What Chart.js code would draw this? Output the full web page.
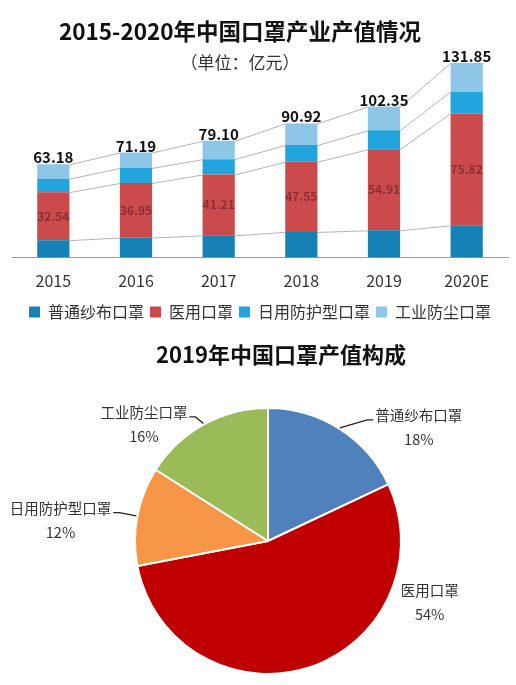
<!DOCTYPE html>
<html>
<head>
<meta charset="utf-8">
<script src="https://cdn.jsdelivr.net/npm/chart.js@4.4.1/dist/chart.umd.min.js"></script>
<style>
body{margin:0;background:#fff;font-family:"Noto Sans CJK SC",sans-serif;}
#wrap{position:relative;width:516px;height:685px;overflow:hidden;}
canvas{position:absolute;left:0;}
.t{position:absolute;text-align:center;pointer-events:none;line-height:1;white-space:nowrap;}
#t1{left:0;width:480px;top:19px;font-size:22.5px;font-weight:bold;color:#111;}
#t2{left:0;width:480px;top:53px;font-size:17px;color:#333;}
#t3{left:31px;width:500px;top:342px;font-size:22px;font-weight:bold;color:#111;}
</style>
</head>
<body>
<div id="wrap">
<canvas id="bar" width="516" height="335" style="top:0"></canvas>
<canvas id="pie" width="516" height="325" style="top:360px"></canvas>
<div class="t" id="t1">2015-2020年中国口罩产业产值情况</div>
<div class="t" id="t2">（单位：亿元）</div>
<div class="t" id="t3">2019年中国口罩产值构成</div>
</div>
<script>
var FONT = '"Noto Sans CJK SC", sans-serif';

// 2015-2020 产值（亿元）
var years = ['2015', '2016', '2017', '2018', '2019', '2020E'];
var gauze = [11.8, 13.6, 15.1, 17.4, 18.5, 21.9];       // 普通纱布口罩
var medical = [32.54, 36.95, 41.21, 47.55, 54.91, 75.82]; // 医用口罩
var daily = [9.1, 10.2, 10.4, 11.3, 12.9, 14.7];        // 日用防护型口罩
var dust = [9.74, 10.44, 12.39, 14.67, 16.04, 19.43];   // 工业防尘口罩
var totals = [63.18, 71.19, 79.10, 90.92, 102.35, 131.85];

// 2019 构成
var pieNames = ['普通纱布口罩', '医用口罩', '日用防护型口罩', '工业防尘口罩'];
var pieShares = [18, 54, 12, 16];

// label spots around the pie, in units of the radius
var pieLabelDX = [1.134, 1.216, -1.56, -0.933];
var pieLabelDY = [-0.851, 0.466, -0.153, -0.873];
var pieLeader = [true, false, true, true];

var barDeco = {
  id: 'barDeco',
  afterDatasetsDraw: function(chart) {
    var ctx = chart.ctx;
    var n = chart.data.labels.length;
    ctx.save();
    ctx.strokeStyle = '#b3b3b3';
    ctx.lineWidth = 1;
    chart.data.datasets.forEach(function(ds, k) {
      var meta = chart.getDatasetMeta(k);
      for (var i = 0; i < n - 1; i++) {
        var a = meta.data[i], b = meta.data[i + 1];
        ctx.beginPath();
        ctx.moveTo(a.x + a.width / 2, a.y + 0.5);
        ctx.lineTo(b.x - b.width / 2, b.y + 0.5);
        ctx.stroke();
      }
    });

    ctx.textAlign = 'center';
    ctx.textBaseline = 'middle';
    ctx.font = 'bold 12px ' + FONT;
    ctx.fillStyle = '#8a3034';
    chart.getDatasetMeta(1).data.forEach(function(el, i) {
      ctx.fillText(medical[i].toFixed(2), el.x, (el.y + el.base) / 2);
    });

    ctx.textBaseline = 'alphabetic';
    ctx.font = 'bold 15px ' + FONT;
    ctx.fillStyle = '#111';
    chart.getDatasetMeta(3).data.forEach(function(el, i) {
      ctx.fillText(totals[i].toFixed(2), el.x, el.y - 1);
    });
    ctx.restore();
  }
};

new Chart(document.getElementById('bar'), {
  type: 'bar',
  data: {
    labels: years,
    datasets: [
      { label: '普通纱布口罩', data: gauze, backgroundColor: '#1681b5' },
      { label: '医用口罩', data: medical, backgroundColor: '#cb4a4b' },
      { label: '日用防护型口罩', data: daily, backgroundColor: '#22a5dd' },
      { label: '工业防尘口罩', data: dust, backgroundColor: '#8dc6e6' }
    ]
  },
  options: {
    responsive: false,
    animation: false,
    datasets: { bar: { barPercentage: 0.39, categoryPercentage: 1 } },
    layout: { padding: { left: 12, right: 8, top: 51, bottom: 5 } },
    plugins: {
      legend: {
        position: 'bottom',
        labels: { boxWidth: 11, boxHeight: 11, padding: 6, color: '#333', font: { size: 16, family: FONT } }
      },
      tooltip: { enabled: false }
    },
    scales: {
      x: {
        stacked: true,
        grid: { display: false, drawTicks: false },
        border: { display: true, color: '#9a9a9a', width: 1 },
        ticks: { padding: 14, color: '#333', font: { size: 16, family: FONT } },
        afterFit: function(scale) { scale.height -= 6.8; }
      },
      y: { stacked: true, display: false, min: 0, max: 140 }
    }
  },
  plugins: [barDeco]
});

var pieDeco = {
  id: 'pieDeco',
  afterDatasetsDraw: function(chart) {
    var ctx = chart.ctx;
    ctx.save();
    ctx.font = '14.5px ' + FONT;
    ctx.fillStyle = '#333';
    ctx.strokeStyle = '#222';
    ctx.lineWidth = 1.3;
    ctx.textAlign = 'center';
    ctx.textBaseline = 'middle';
    chart.getDatasetMeta(0).data.forEach(function(arc, i) {
      var r = arc.outerRadius;
      var tx = arc.x + pieLabelDX[i] * r;
      var ty = arc.y + pieLabelDY[i] * r;
      ctx.fillText(pieNames[i], tx, ty - 12);
      ctx.fillText(pieShares[i] + '%', tx, ty + 12);
      if (pieLeader[i]) {
        var mid = (arc.startAngle + arc.endAngle) / 2;
        var ex = arc.x + Math.cos(mid) * (r + 1);
        var ey = arc.y + Math.sin(mid) * (r + 1);
        var w = ctx.measureText(pieNames[i]).width;
        var ly = ty - 12 + 4;
        var side = tx > arc.x ? -1 : 1;
        var sx = tx + side * (w / 2 + 2);
        var elx = sx + side * 6;
        ctx.beginPath();
        ctx.moveTo(sx, ly);
        ctx.lineTo(elx, ly);
        ctx.lineTo(ex, ey);
        ctx.stroke();
      }
    });
    ctx.restore();
  }
};

new Chart(document.getElementById('pie'), {
  type: 'pie',
  data: {
    labels: pieNames,
    datasets: [{
      data: pieShares,
      backgroundColor: ['#4f81bd', '#c00000', '#f79646', '#9bbb59'],
      borderColor: '#fff',
      borderWidth: 2
    }]
  },
  options: {
    responsive: false,
    animation: false,
    layout: { padding: { left: 20, right: 0, top: 47, bottom: 10 } },
    plugins: { legend: { display: false }, tooltip: { enabled: false } }
  },
  plugins: [pieDeco]
});
</script>
</body>
</html>
